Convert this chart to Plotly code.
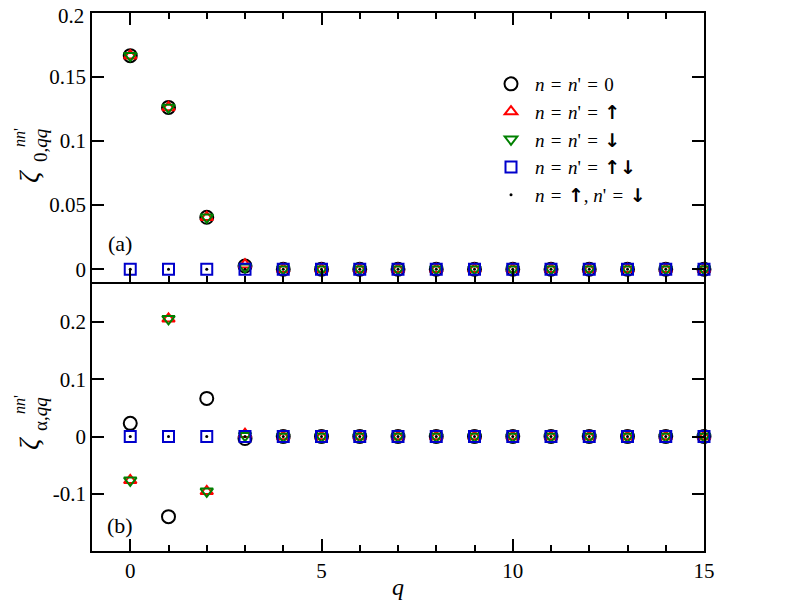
import plotly.graph_objects as go
from plotly.subplots import make_subplots

q = list(range(16))

# panel (a): zeta_0,qq
a_zero = [0.1667, 0.1263, 0.0405, 0.0025] + [0.0] * 12
a_up = [0.1667, 0.1263, 0.0405, 0.0035] + [0.0] * 12
a_down = [0.1667, 0.1263, 0.0405, 0.0015] + [0.0] * 12
a_updown = [0.0] * 16
a_mixed = [0.0] * 16

# panel (b): zeta_alpha,qq
b_zero = [0.023, -0.140, 0.0666, -0.0035] + [0.0] * 12
b_up = [-0.0765, 0.2057, -0.0957, 0.004] + [0.0] * 12
b_down = [-0.0765, 0.2057, -0.0957, 0.0015] + [0.0] * 12
b_updown = [0.0] * 16
b_mixed = [0.0] * 16

a_ticks = [0, 0.05, 0.1, 0.15, 0.2]
a_ticktext = ["0", "0.05", "0.1", "0.15", ""]  # top label drawn separately so it isn't clipped
b_ticks = [-0.1, 0, 0.1, 0.2]
b_ticktext = ["-0.1", "0", "0.1", "0.2"]

SP = "\u2004"
ARROW = "<span style='font-family:DejaVu Sans;font-weight:bold'>%s</span>"
UP, DN, UPDN = ARROW % "↑", ARROW % "↓", ARROW % "↑↓"
names = [f"<i>n</i>{SP}={SP}<i>n</i>'{SP}={SP}0",
         f"<i>n</i>{SP}={SP}<i>n</i>'{SP}={SP}{UP}",
         f"<i>n</i>{SP}={SP}<i>n</i>'{SP}={SP}{DN}",
         f"<i>n</i>{SP}={SP}<i>n</i>'{SP}={SP}{UPDN}",
         f"<i>n</i>{SP}={SP}{UP}, <i>n</i>'{SP}={SP}{DN}"]

styles = [dict(symbol="circle-open", size=13, color="black", line=dict(width=2, color="black")),
          dict(symbol="triangle-up-open", size=11, color="red", line=dict(width=2, color="red")),
          dict(symbol="triangle-down-open", size=11, color="green", line=dict(width=2, color="green")),
          dict(symbol="square-open", size=11, color="#0000cc", line=dict(width=2, color="#0000cc")),
          dict(symbol="circle", size=3, color="black")]

FONT = "Liberation Serif, Times New Roman, serif"

fig = make_subplots(rows=2, cols=1, shared_xaxes=True, vertical_spacing=0)

for i, ys in enumerate([a_zero, a_up, a_down, a_updown, a_mixed]):
    fig.add_trace(go.Scatter(x=q, y=ys, mode="markers", name=names[i], marker=styles[i],
                             cliponaxis=False, showlegend=True), row=1, col=1)
for i, ys in enumerate([b_zero, b_up, b_down, b_updown, b_mixed]):
    fig.add_trace(go.Scatter(x=q, y=ys, mode="markers", name=names[i], marker=styles[i],
                             cliponaxis=False, showlegend=False), row=2, col=1)

xcommon = dict(range=[-1, 15], showline=True, linecolor="black", linewidth=1.5,
               ticks="inside", ticklen=12, tickwidth=1.5, tickcolor="black", dtick=5, tick0=0,
               showgrid=False, zeroline=False, automargin=False, ticklabeloverflow="allow",
               minor=dict(dtick=1, ticks="inside", ticklen=6, tickwidth=1.5, tickcolor="black", showgrid=False),
               tickfont=dict(family=FONT, size=21, color="black"))
fig.update_xaxes(**xcommon)
fig.update_xaxes(showticklabels=False, mirror="ticks", row=1, col=1)
fig.update_xaxes(mirror=False, row=2, col=1)

# ticks along the top edge of the lower panel, without a second line
fig.update_layout(xaxis3=dict(overlaying="x2", anchor="y2", side="top", range=[-1, 15],
                              showline=False, showticklabels=False, ticks="inside", ticklen=12,
                              tickwidth=1.5, tickcolor="black", dtick=5, tick0=0, showgrid=False,
                              zeroline=False, automargin=False,
                              minor=dict(dtick=1, ticks="inside", ticklen=6, tickwidth=1.5,
                                         tickcolor="black", showgrid=False)))

ycommon = dict(showline=True, linecolor="black", linewidth=1.5, mirror="ticks", ticks="inside",
               ticklen=12, tickwidth=1.5, tickcolor="black", showgrid=False, zeroline=False,
               automargin=False, ticklabeloverflow="allow",
               tickfont=dict(family=FONT, size=21, color="black"))
fig.update_yaxes(**ycommon)
fig.update_yaxes(range=[-0.01, 0.2], tickvals=a_ticks, ticktext=a_ticktext, row=1, col=1)
fig.update_yaxes(range=[-0.2, 0.27], tickvals=b_ticks, ticktext=b_ticktext, row=2, col=1)

# page body has an 8px margin, so shift the figure back by that much
OFF = 8
W, H = 792 - OFF, 612 - OFF
L, R, T, B = 92 - OFF, 88, 13 - OFF, 61
X0, X1, Y0, Y1 = 92, 704, 13, 551  # plot area on the page


def px(x):
    return (x - X0) / (X1 - X0)


def py(y):
    return (Y1 - y) / (Y1 - Y0)


def ann(text, x, y, size, angle=0, xanchor="center"):
    fig.add_annotation(text=text, x=px(x), y=py(y), xref="paper", yref="paper", showarrow=False,
                       xanchor=xanchor, yanchor="middle", textangle=angle,
                       font=dict(family=FONT, size=size, color="black"))


ann("0.2", 86, 16, 21, xanchor="right")
ann("(a)", 120, 243, 22)
ann("(b)", 120, 525, 22)
ann("<i>q</i>", 398, 587, 24)

# y-axis titles
ann("<i>ζ</i>", 28, 177, 28, -90)
ann("0,<i>qq</i>", 40, 145, 19, -90)
ann("<i>nn</i>'", 19, 138, 16, -90)
ann("<i>ζ</i>", 28, 444, 28, -90)
ann("α,<i>qq</i>", 40, 414, 19, -90)
ann("<i>nn</i>'", 19, 405, 16, -90)

fig.update_layout(width=W, height=H, margin=dict(l=L, r=R, t=T, b=B, autoexpand=False),
                  paper_bgcolor="white", plot_bgcolor="white",
                  legend=dict(x=px(487), y=py(65), xanchor="left", yanchor="top",
                              font=dict(family=FONT, size=19, color="black"),
                              bgcolor="rgba(0,0,0,0)", tracegroupgap=0, itemwidth=38),
                  showlegend=True)

fig.write_html("out.html")
